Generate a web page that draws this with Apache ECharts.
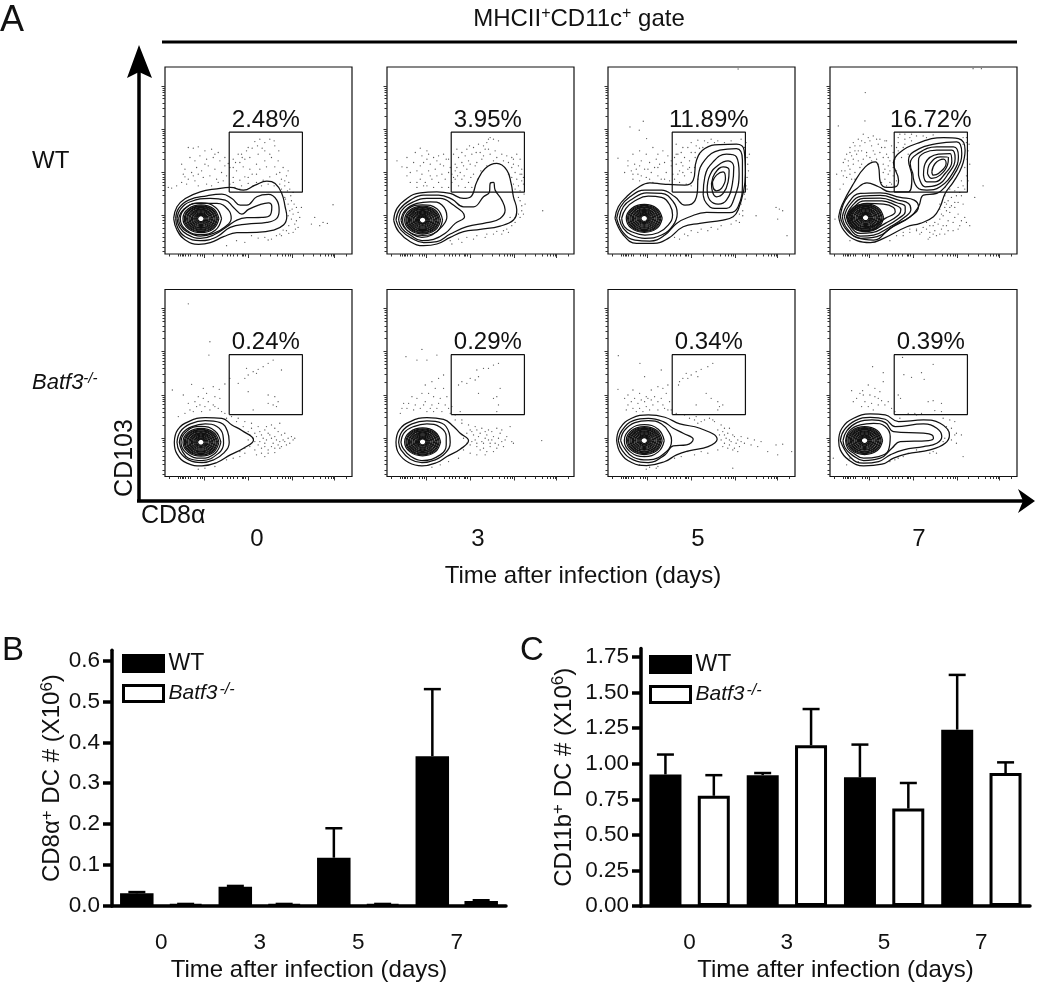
<!DOCTYPE html>
<html><head><meta charset="utf-8"><style>html,body{margin:0;padding:0;background:#fff}#c{width:1050px;height:983px}</style>
<script src="https://cdn.jsdelivr.net/npm/echarts@6/dist/echarts.min.js"></script></head><body><div id="c"></div>
<script>
const FONT='"Liberation Sans",Arial,sans-serif';
const days=['0','3','5','7'];
const wtB=[0.031,0.047,0.118,0.366], koB=[0.004,0.004,0.004,0.012];
const wtBErr=[0.034,0.049,0.19,0.53], koBErr=[0.005,0.005,0.005,0.014];
const wtC=[0.925,0.92,0.905,1.24], koC=[0.775,1.13,0.685,0.935];
const wtCErr=[1.065,0.935,1.135,1.625], koCErr=[0.92,1.385,0.865,1.01];
const gateLabels=['2.48%','3.95%','11.89%','16.72%','0.24%','0.29%','0.34%','0.39%'];
const gateBox=[[193,186],[413,186],[413,366],[193,366],[193,186]];
const xMajor=[119,249,383,510], xMinor=[14,41,46,51,56,61,71,76,96,106,111,146,171,186,196,206,218,231,236,241,286,316,336,351,361,371,376,414,446,466,481,491,499,506,546];
const yMajor=[115,245,376,505], yMinor=[37,7,20,50,62,76,92,102,109,154,177,193,206,216,225,232,239,284,307,324,337,347,356,363,370,414,437,453,467,477,486,493,499];
const coreCenters=[[108,106],[107,102],[109,107],[107,109],[108,103],[107,104],[109,108],[104,108]];
const coreRings=[
[[54,0],[38,30],[0,42],[-38,30],[-54,0],[-38,-30],[0,-42],[38,-30]],
[[50,0],[35,28],[0,39],[-35,28],[-50,0],[-35,-28],[0,-39],[35,-28]],
[[47,0],[33,26],[0,37],[-33,26],[-47,0],[-33,-26],[0,-37],[33,-26]],
[[43,0],[30,24],[0,34],[-30,24],[-43,0],[-30,-24],[0,-34],[30,-24]],
[[40,0],[28,23],[0,32],[-28,23],[-40,0],[-28,-23],[0,-32],[28,-23]],
[[36,0],[25,21],[0,29],[-25,21],[-36,0],[-25,-21],[0,-29],[25,-21]],
[[33,0],[23,19],[0,27],[-23,19],[-33,0],[-23,-19],[0,-27],[23,-19]],
[[29,0],[20,17],[0,24],[-20,17],[-29,0],[-20,-17],[0,-24],[20,-17]],
[[26,0],[18,15],[0,21],[-18,15],[-26,0],[-18,-15],[0,-21],[18,-15]],
[[22,0],[15,13],[0,18],[-15,13],[-22,0],[-15,-13],[0,-18],[15,-13]],
[[19,0],[13,11],[0,16],[-13,11],[-19,0],[-13,-11],[0,-16],[13,-11]],
[[16,0],[11,9],[0,13],[-11,9],[-16,0],[-11,-9],[0,-13],[11,-9]],
[[13,0],[9,8],[0,11],[-9,8],[-13,0],[-9,-8],[0,-11],[9,-8]],
[[10,0],[7,6],[0,9],[-7,6],[-10,0],[-7,-6],[0,-9],[7,-6]]];
const p1Contours=[
[[26,107],[36,142],[61,167],[106,187],[156,196],[196,200],[236,192],[271,207],[306,219],[331,212],[351,182],[361,142],[366,112],[356,87],[326,72],[276,65],[216,64],[176,52],[136,34],[101,29],[61,42],[36,72]],
[[32,107],[41,137],[71,162],[126,175],[171,180],[201,167],[226,147],[246,147],[276,172],[311,179],[336,162],[343,132],[336,107],[306,95],[246,90],[196,80],[156,52],[106,40],[61,52],[39,77]],
[[36,107],[46,134],[76,157],[136,167],[181,162],[206,140],[231,120],[251,134],[281,147],[311,154],[321,142],[316,117],[291,110],[246,109],[216,102],[186,82],[146,57],[106,47],[66,59],[44,80]],
[[41,107],[56,134],[96,152],[156,152],[191,132],[199,107],[181,82],[146,62],[106,54],[66,67],[46,87]],
[[170,106],[152,140],[108,154],[64,140],[46,106],[64,72],[108,58],[152,72]]];
const p2Contours=[
[[20,102],[30,137],[60,167],[100,184],[150,187],[190,182],[230,167],[252,172],[270,217],[295,257],[330,272],[360,252],[373,212],[380,172],[390,132],[380,102],[340,84],[280,74],[230,67],[190,50],[150,30],[110,25],[70,37],[35,67]],
[[27,102],[38,134],[70,162],[110,177],[155,177],[195,165],[230,142],[260,142],[290,172],[308,187],[310,212],[320,215],[325,192],[345,162],[355,132],[340,107],[300,94],[240,82],[190,60],[150,37],[110,34],[75,47],[42,72]],
[[35,102],[45,132],[80,157],[120,167],[160,167],[195,150],[233,112],[205,92],[175,62],[140,44],[105,40],[70,57],[45,77]],
[[42,102],[55,132],[90,152],[130,157],[165,147],[180,112],[165,82],[135,57],[105,50],[70,64],[50,82]],
[[167,102],[150,136],[107,148],[64,136],[47,102],[64,68],[107,56],[150,68]]];
const p3Contours=[
[[21,107],[31,142],[56,172],[86,197],[126,214],[166,210],[231,207],[256,222],[266,282],[291,317],[336,329],[386,330],[409,312],[413,242],[408,192],[391,132],[376,112],[346,102],[276,92],[226,82],[181,47],[136,32],[86,32],[46,57]],
[[26,107],[38,142],[66,172],[111,192],[161,192],[201,172],[231,147],[251,150],[268,182],[271,232],[291,282],[336,312],[386,317],[404,282],[404,212],[391,142],[366,124],[296,125],[246,112],[206,92],[171,57],[126,39],[81,42],[46,64]],
[[286,177],[291,232],[316,277],[356,300],[386,292],[394,242],[381,172],[356,137],[321,137],[296,152]],
[[298,192],[306,237],[331,267],[361,280],[378,262],[374,212],[356,162],[331,150],[306,162]],
[[311,212],[321,242],[346,262],[364,252],[361,217],[346,182],[326,172],[314,187]],
[[314,217],[326,237],[346,247],[353,227],[341,197],[326,190],[316,200]],
[[34,107],[46,142],[71,164],[116,184],[161,182],[196,157],[208,122],[196,87],[161,57],[111,47],[71,57],[46,77]],
[[41,107],[54,137],[81,160],[121,174],[161,170],[186,147],[194,117],[181,87],[151,64],[111,57],[71,67],[49,82]]];
const p4Contours=[
[[26,112],[36,147],[71,212],[106,262],[136,277],[146,262],[151,217],[171,200],[196,202],[206,222],[191,272],[206,302],[261,332],[341,350],[386,347],[406,312],[396,262],[371,217],[346,182],[331,142],[311,112],[271,92],[231,82],[161,47],[121,34],[81,40],[41,72]],
[[31,112],[46,162],[81,197],[111,214],[146,202],[181,187],[236,187],[246,232],[236,282],[251,307],[321,332],[381,337],[396,302],[381,252],[346,202],[321,182],[281,177],[266,142],[241,112],[181,77],[131,42],[81,50],[46,77]],
[[249,242],[241,272],[261,300],[321,322],[371,322],[386,292],[371,247],[331,202],[291,192],[261,202]],
[[266,237],[266,282],[321,312],[366,312],[376,287],[356,242],[321,207],[286,202]],
[[281,237],[286,272],[326,300],[361,302],[366,277],[346,242],[316,217],[291,217]],
[[293,242],[301,272],[331,292],[356,290],[353,267],[331,237],[306,227]],
[[306,247],[316,272],[341,285],[349,272],[326,242],[311,237]],
[[37,112],[53,150],[91,182],[151,184],[211,170],[253,162],[266,142],[241,112],[196,87],[141,52],[91,47],[51,77]],
[[43,112],[59,147],[96,174],[151,176],[206,162],[236,152],[243,134],[226,112],[181,82],[131,57],[91,54],[56,82]],
[[49,112],[66,144],[101,167],[151,168],[201,154],[226,142],[226,127],[206,107],[166,82],[126,64],[91,62],[61,84]],
[[53,112],[71,140],[106,160],[156,160],[196,147],[213,134],[206,117],[166,92],[126,72],[91,70],[66,87]],
[[59,112],[76,137],[111,152],[161,150],[191,140],[196,127],[166,107],[126,82],[91,77],[71,92]]];
const p5Contours=[
[[28,103],[38,140],[71,165],[121,177],[171,175],[201,155],[231,138],[266,110],[236,85],[196,65],[156,42],[111,32],[66,40],[36,68]],
[[36,103],[46,135],[76,158],[121,168],[166,162],[188,135],[193,103],[176,70],[146,50],[111,42],[71,50],[44,75]],
[[43,103],[54,132],[81,150],[121,158],[156,150],[174,125],[176,100],[161,70],[111,48],[71,55],[51,78]],
[[168,103],[150,137],[108,151],[66,137],[48,103],[66,69],[108,55],[150,69]]];
const p6Contours=[
[[27,103],[37,140],[70,165],[120,177],[170,172],[200,150],[220,130],[245,108],[220,82],[180,60],[150,42],[105,32],[65,42],[35,70]],
[[35,103],[45,135],[75,158],[120,167],[165,160],[187,130],[190,103],[175,70],[145,50],[105,42],[70,52],[42,80]],
[[42,103],[52,132],[80,150],[120,158],[160,148],[178,120],[178,95],[160,65],[105,48],[72,60],[48,85]]];
const p7Contours=[
[[26,108],[36,145],[71,175],[121,185],[171,178],[216,158],[276,145],[328,112],[301,90],[246,78],[206,65],[171,45],[116,33],[71,42],[38,70]],
[[31,108],[43,140],[76,168],[121,175],[166,165],[196,145],[226,130],[256,112],[236,95],[196,92],[171,65],[121,42],[76,50],[43,78]],
[[38,108],[49,138],[81,162],[121,168],[161,158],[186,128],[191,108],[176,75],[121,50],[76,58],[49,85]],
[[169,108],[151,142],[109,156],[67,142],[49,108],[67,74],[109,60],[151,74]]];
const p8Contours=[
[[26,108],[36,145],[71,175],[121,188],[166,185],[206,165],[281,170],[331,160],[359,125],[346,100],[301,80],[231,68],[191,55],[156,37],[101,32],[56,50],[31,80]],
[[31,108],[43,140],[76,168],[121,178],[166,172],[196,150],[281,158],[321,145],[336,120],[321,100],[281,90],[221,80],[181,65],[146,45],[101,40],[61,58]],
[[39,108],[51,138],[81,162],[126,170],[166,162],[191,135],[281,130],[306,125],[311,115],[296,108],[211,105],[186,85],[151,55],[101,48],[66,65],[46,85]],
[[47,108],[59,138],[91,155],[131,160],[166,150],[181,120],[176,80],[146,60],[101,55],[71,70],[53,85]]];
const p1Dots=[[70,320],[85,318],[100,322],[120,310],[140,315],[160,305],[50,270],[55,240],[75,290],[90,280],[105,295],[125,285],[145,290],[165,280],[180,265],[190,272],[60,255],[80,245],[95,260],[110,250],[130,265],[150,255],[170,245],[185,235],[70,225],[90,220],[115,230],[135,235],[155,225],[175,220],[195,210],[10,200],[20,198],[65,210],[100,205],[140,205],[250,320],[270,338],[285,345],[300,335],[315,345],[328,340],[220,300],[232,290],[245,310],[262,318],[278,325],[292,318],[240,285],[225,275],[205,260],[215,250],[235,262],[255,255],[275,270],[300,280],[320,290],[340,280],[355,260],[370,250],[205,230],[225,222],[250,230],[275,240],[295,222],[315,232],[335,240],[350,225],[365,235],[372,215],[205,215],[230,205],[250,212],[345,210],[360,205],[360,170],[370,150],[375,130],[380,105],[385,120],[390,90],[395,140],[372,85],[365,70],[355,72],[345,60],[335,55],[300,50],[320,45],[215,40],[240,35],[185,25],[400,125],[405,110],[410,140],[380,160],[392,75],[440,90],[450,110],[465,85],[475,95],[488,92],[505,148],[205,285],[195,260],[180,290],[150,300],[120,270],[100,240],[85,235],[60,232],[50,215],[35,205],[125,210],[160,215],[210,200],[225,195],[240,232],[262,240],[285,255],[305,262],[330,262],[345,245],[360,220],[375,195],[385,185],[368,190],[350,195],[328,205],[310,210],[290,205],[275,215],[265,205],[212,275],[230,300],[255,290],[280,300],[300,310],[315,300],[330,325],[342,310],[362,165],[378,175],[388,150],[395,100],[400,80],[385,65],[372,62],[350,55],[310,42],[280,48],[260,55],[370,115],[382,135]];
const p2Dots=[[100,318],[120,310],[85,305],[60,290],[30,280],[45,262],[60,260],[105,295],[125,300],[140,290],[155,295],[170,300],[185,285],[110,275],[130,270],[150,280],[170,265],[190,260],[90,250],[105,240],[125,250],[145,255],[165,240],[185,245],[90,215],[100,225],[115,215],[135,225],[155,215],[175,225],[195,215],[120,205],[140,200],[165,200],[185,200],[310,350],[320,345],[300,335],[290,325],[275,330],[260,320],[240,315],[225,305],[210,315],[200,300],[215,290],[235,295],[255,300],[280,305],[305,315],[325,310],[345,300],[360,295],[375,290],[390,300],[400,285],[205,270],[225,275],[245,280],[265,265],[285,285],[205,250],[220,245],[240,255],[260,240],[205,225],[225,225],[245,215],[215,205],[235,200],[255,200],[380,270],[395,265],[405,255],[385,245],[400,240],[390,225],[405,220],[395,205],[385,195],[400,190],[410,230],[375,260],[395,170],[405,145],[395,120],[385,95],[375,85],[360,75],[350,70],[330,68],[300,60],[270,55],[240,50],[215,45],[190,40],[405,130],[415,150],[370,110],[468,130],[80,275],[70,245],[100,265],[120,285],[160,270],[178,285],[195,240],[200,230],[150,235],[130,235],[110,205],[90,200],[70,215],[60,235],[210,260],[230,265],[250,270],[270,275],[290,295],[310,300],[330,290],[350,280],[365,275],[380,285],[212,235],[232,235],[252,230],[272,225],[282,250],[300,265],[320,280],[335,340],[305,345],[295,315],[268,305],[248,325],[365,240],[375,230],[405,240],[410,210],[380,210],[412,180],[400,160],[410,120],[400,110],[385,110],[365,65],[345,60],[320,60],[295,50],[260,45],[225,35],[195,30]];
const p3Dots=[[106,399],[66,382],[94,372],[116,347],[30,288],[75,300],[95,310],[115,300],[135,320],[150,300],[165,310],[180,295],[60,280],[80,270],[100,280],[125,275],[145,285],[170,275],[190,265],[70,250],[90,240],[110,255],[130,245],[150,260],[175,245],[195,240],[75,225],[95,220],[115,230],[135,215],[160,225],[185,220],[205,330],[225,320],[250,335],[270,342],[290,340],[310,345],[320,335],[265,325],[285,320],[210,300],[230,290],[250,305],[275,300],[205,270],[225,265],[245,280],[260,260],[210,240],[230,235],[250,245],[270,225],[215,215],[235,210],[250,205],[400,345],[415,335],[425,300],[420,270],[418,230],[415,205],[410,180],[400,150],[395,120],[385,100],[405,130],[340,85],[310,80],[280,75],[250,70],[230,60],[200,50],[445,115],[505,140],[515,135],[525,130],[510,105],[538,55],[391,556],[200,290],[190,280],[155,270],[140,260],[120,255],[85,255],[95,265],[60,265],[50,245],[75,240],[100,235],[125,225],[150,235],[170,225],[200,225],[205,300],[220,275],[240,255],[215,250],[225,245],[245,260],[262,290],[262,305],[240,320],[220,305],[275,318],[300,335],[330,340],[350,335],[370,340],[410,320],[418,290],[422,250],[418,195],[412,165],[405,115],[395,95],[370,90],[330,75],[300,70],[270,65],[240,55],[215,45]];
const p4Dots=[[430,557],[455,557],[106,485],[105,400],[25,385],[100,360],[115,350],[130,355],[150,345],[170,340],[85,345],[70,335],[60,320],[75,310],[90,325],[105,335],[125,325],[145,330],[165,320],[185,325],[50,300],[65,295],[80,300],[95,310],[110,305],[130,310],[150,305],[170,300],[190,305],[40,275],[55,280],[70,270],[85,280],[100,285],[120,290],[140,285],[160,290],[180,280],[195,285],[45,250],[60,255],[75,245],[90,260],[160,270],[175,265],[190,260],[50,230],[65,225],[40,210],[30,195],[160,245],[175,240],[190,235],[200,220],[165,225],[180,215],[195,205],[158,205],[210,360],[225,345],[240,350],[260,355],[290,350],[310,358],[205,335],[225,330],[245,340],[400,350],[410,335],[415,310],[412,285],[405,260],[410,235],[395,220],[385,200],[405,195],[375,190],[360,195],[345,200],[200,320],[345,175],[355,160],[365,145],[350,130],[340,115],[330,105],[360,125],[375,140],[385,120],[395,100],[370,95],[350,85],[335,75],[315,70],[300,65],[280,80],[260,70],[345,60],[320,55],[300,50],[410,95],[420,85],[370,70],[345,155],[330,135],[315,95],[300,85],[290,95],[275,65],[385,155],[400,150],[435,170],[460,205],[240,75],[220,65],[200,55],[180,40],[60,40],[30,100],[15,105],[85,310],[110,295],[125,280],[145,270],[165,255],[180,250],[60,240],[75,225],[55,265],[45,285],[70,285],[95,270],[115,270],[135,300],[155,320],[175,290],[190,275],[200,250],[205,310],[220,320],[235,300],[215,290],[200,295],[165,340],[140,345],[120,340],[95,340],[75,325],[60,305],[35,250],[20,240],[40,235],[155,215],[170,205],[185,210],[380,175],[395,175],[365,170],[350,150],[335,120],[325,90],[310,85],[290,75],[270,60],[355,100],[375,110],[390,85],[405,110],[385,75],[355,70],[340,85],[330,60],[310,60],[295,45],[360,140],[375,155],[345,140],[330,150],[410,350],[400,330],[418,330],[420,270],[415,220],[400,205],[390,185],[280,355],[245,360],[225,360],[205,350],[260,75],[240,65],[220,55]];
const p5Dots=[[70,519],[135,405],[132,365],[195,295],[180,278],[163,262],[145,270],[115,265],[80,277],[22,260],[100,240],[115,235],[125,250],[150,240],[165,235],[55,245],[90,225],[70,220],[105,215],[130,225],[145,215],[160,205],[60,190],[85,195],[110,195],[135,200],[170,195],[180,190],[325,350],[310,340],[295,330],[280,322],[265,315],[250,305],[240,295],[275,310],[245,325],[220,280],[350,320],[250,255],[310,245],[330,240],[340,225],[325,215],[310,220],[265,200],[335,210],[200,180],[215,165],[235,150],[260,160],[280,150],[300,140],[320,155],[345,160],[250,135],[270,130],[290,125],[310,130],[330,120],[350,125],[370,115],[385,110],[265,115],[285,105],[305,110],[325,100],[345,105],[365,95],[390,115],[255,90],[270,80],[290,85],[310,80],[330,85],[350,90],[240,70],[225,60],[205,55],[185,50],[150,30],[120,25],[100,22],[275,65],[300,60],[300,90],[320,115],[340,135],[360,130],[345,85],[255,125],[275,120],[295,115],[315,125],[335,110],[355,110],[375,100],[280,95],[300,100],[320,90],[340,95],[360,105],[380,120],[270,105],[250,110],[240,85],[225,75],[290,70],[310,70],[330,72],[260,145],[285,135],[305,150],[330,145],[240,165],[220,175],[185,175],[150,210],[120,210],[95,210],[75,200],[40,180]];
const p6Dots=[[105,382],[57,360],[90,350],[120,350],[150,365],[170,305],[155,295],[135,285],[115,275],[145,265],[170,265],[125,250],[105,250],[140,240],[160,235],[180,240],[195,210],[75,240],[90,235],[115,225],[135,215],[155,220],[175,215],[190,190],[50,220],[60,205],[80,200],[100,205],[120,195],[140,195],[165,195],[40,190],[335,340],[320,335],[305,325],[290,325],[270,320],[275,300],[265,290],[250,295],[225,285],[215,275],[240,280],[340,265],[320,235],[330,240],[275,250],[335,215],[330,195],[220,195],[205,170],[225,160],[245,155],[265,150],[285,145],[305,140],[330,145],[370,150],[240,130],[260,125],[280,130],[300,125],[320,120],[340,130],[360,120],[375,105],[265,110],[285,105],[305,110],[325,100],[345,105],[250,95],[270,90],[290,85],[310,90],[330,85],[350,90],[230,80],[250,70],[270,65],[295,65],[215,55],[185,45],[160,35],[135,28],[465,108],[380,100],[255,135],[275,120],[295,115],[315,110],[335,115],[355,110],[270,100],[290,100],[310,100],[335,95],[255,105],[280,80],[300,75],[320,75],[240,100],[230,115],[250,140],[270,140],[295,135],[315,135],[345,140],[225,170],[205,185],[185,205],[150,205],[130,205],[110,215],[85,215],[65,220],[45,205]];
const p7Dots=[[31,363],[96,340],[110,300],[160,320],[180,275],[165,265],[150,270],[130,260],[115,240],[95,250],[75,260],[60,245],[50,235],[30,262],[80,235],[100,230],[120,235],[140,240],[160,235],[175,250],[185,225],[60,215],[75,205],[95,205],[115,210],[135,215],[150,200],[170,205],[190,200],[55,200],[315,340],[300,330],[280,322],[265,315],[250,305],[235,310],[225,295],[215,285],[212,275],[240,295],[270,300],[295,250],[310,235],[330,225],[335,210],[265,215],[330,200],[345,215],[205,190],[245,175],[260,170],[280,165],[305,175],[320,165],[340,155],[270,160],[345,135],[360,130],[375,125],[355,115],[370,105],[390,110],[400,120],[340,110],[350,100],[365,95],[380,85],[395,90],[410,100],[440,110],[460,105],[505,95],[525,97],[480,75],[510,65],[552,75],[375,25],[330,80],[300,70],[280,75],[260,65],[240,75],[220,60],[200,55],[150,30],[125,28],[145,25],[125,200],[105,195],[85,195],[70,225],[90,220],[110,225],[150,225],[130,230],[165,215],[180,200],[335,125],[350,125],[365,110],[385,100],[400,105],[420,115],[345,90],[360,85],[375,80],[390,75],[350,145],[365,145],[380,120],[430,95],[450,90],[330,140],[315,170],[290,170],[265,180],[230,185],[95,35],[115,22]];
const p8Dots=[[218,358],[128,330],[310,337],[160,312],[222,306],[245,298],[275,312],[283,292],[98,258],[115,275],[135,265],[150,255],[160,285],[65,258],[100,245],[80,235],[135,240],[155,228],[175,225],[105,225],[125,220],[145,215],[205,245],[212,235],[295,225],[310,228],[335,220],[235,190],[255,190],[315,198],[335,195],[340,175],[360,170],[375,165],[260,185],[275,190],[210,175],[195,195],[350,150],[365,145],[375,125],[365,110],[380,100],[395,125],[345,115],[310,75],[320,70],[260,80],[235,70],[205,55],[180,45],[400,60],[85,45],[60,55],[10,55],[50,35],[120,245],[90,250],[70,225],[145,235],[165,215],[185,205],[95,210],[115,210],[130,200],[355,140],[380,130],[340,105],[300,70],[270,75],[220,60],[195,50]];
const allContours=[p1Contours,p2Contours,p3Contours,p4Contours,p5Contours,p6Contours,p7Contours,p8Contours];
const allDots=[p1Dots,p2Dots,p3Dots,p4Dots,p5Dots,p6Dots,p7Dots,p8Dots];

const panelLefts=[165,387,608,830], panelTops=[67,289.5], panelSize=187, RANGE=562;
const grid=[],xAxis=[],yAxis=[],series=[];
const closed=c=>c.concat([c[0]]);
allContours.forEach((cs,i)=>{
  grid.push({left:panelLefts[i%4],top:panelTops[i<4?0:1],width:panelSize,height:panelSize,show:true,borderColor:'#111',borderWidth:1.2,backgroundColor:'#fff'});
  const ax=(vals,len,pos)=>({type:'value',gridIndex:i,min:0,max:RANGE,position:pos,splitLine:{show:false},axisLine:{show:false},axisLabel:{show:false},axisTick:{show:true,length:len,customValues:vals,lineStyle:{color:'#333',width:1}}});
  xAxis.push(ax(xMajor,4,'bottom'),ax(xMinor,2.5,'bottom'));
  yAxis.push(ax(yMajor,3.5,'left'),ax(yMinor,2.5,'left'));
  const a={xAxisIndex:2*i,yAxisIndex:2*i,silent:true,animation:false};
  series.push({...a,type:'scatter',data:allDots[i],symbolSize:1.3,itemStyle:{color:'#555',opacity:1}});
  const c0=coreCenters[i];
  const rings=cs.concat(coreRings.map(r=>r.map(p=>[p[0]+c0[0],p[1]+c0[1]])));
  rings.forEach(c=>series.push({...a,type:'line',data:closed(c),smooth:0.45,symbol:'none',lineStyle:{color:'#111',width:1.25}}));
  series.push({...a,type:'line',data:gateBox,symbol:'none',lineStyle:{color:'#111',width:1.2}});
  series.push({...a,type:'scatter',data:[[303,366]],symbolSize:0,itemStyle:{opacity:1},label:{show:true,position:'top',distance:0,formatter:gateLabels[i],fontFamily:FONT,fontSize:24,color:'#111',opacity:1}});
});
const sup={fontFamily:FONT,fontSize:17,color:'#111',padding:[0,0,12,0]};
function barPanel(idx,o){
  grid.push({left:o.left,top:o.top,width:o.width,height:o.height});
  xAxis.push({type:'category',gridIndex:idx,data:days,position:'bottom',axisLine:{lineStyle:{color:'#000',width:3.5}},axisTick:{alignWithLabel:true,length:9,lineStyle:{color:'#000',width:3.5}},axisLabel:{fontFamily:FONT,fontSize:22.5,color:'#111',margin:25},name:'Time after infection (days)',nameLocation:'middle',nameGap:52,nameTextStyle:{fontFamily:FONT,fontSize:24,color:'#111'}});
  yAxis.push({type:'value',gridIndex:idx,min:0,max:o.max,splitLine:{show:false},axisLine:{show:true,lineStyle:{color:'#000',width:3.5}},axisTick:{show:true,length:9,customValues:o.ticks,lineStyle:{color:'#000',width:3.5}},axisLabel:{customValues:o.ticks,formatter:v=>v.toFixed(o.dec),fontFamily:FONT,fontSize:22.5,color:'#111',margin:12},name:o.title,nameLocation:'middle',nameGap:o.nameGap,nameTextStyle:{fontFamily:FONT,fontSize:24,color:'#111',rich:{t:{fontFamily:FONT,fontSize:24,color:'#111'},s:sup}}});
  const ax=2*8+(idx-8);
  const a={xAxisIndex:ax,yAxisIndex:ax,animation:false,silent:true};
  series.push({...a,type:'bar',name:'WT',data:o.wt,barWidth:o.barWidth,barGap:o.barGap,itemStyle:{color:'#000',borderColor:'#000',borderWidth:3}});
  series.push({...a,type:'bar',name:'Batf3-/-',data:o.ko,barWidth:o.barWidth,barGap:o.barGap,itemStyle:{color:'#fff',borderColor:'#000',borderWidth:3}});
  const err=(vals,tops,off)=>({...a,type:'custom',clip:false,z:1,data:vals.map((v,k)=>[k,v,tops[k]]),encode:{x:0,y:[1,2]},renderItem(p,api){
    const b=api.coord([api.value(0),api.value(1)]),t=api.coord([api.value(0),api.value(2)]);const x=b[0]+off,st={stroke:'#000',lineWidth:2.5};
    return {type:'group',children:[{type:'line',shape:{x1:x,y1:b[1],x2:x,y2:t[1]},style:st},{type:'line',shape:{x1:x-8.5,y1:t[1],x2:x+8.5,y2:t[1]},style:st}]};
  }});
  series.push(err(o.wt,o.wtErr,-o.off),err(o.ko,o.koErr,o.off));
}
barPanel(8,{left:112,top:650.25,width:394,height:263.75,max:0.625,ticks:[0,0.1,0.2,0.3,0.4,0.5,0.6],dec:1,wt:wtB,ko:koB,wtErr:wtBErr,koErr:koBErr,barWidth:33.5,barGap:'46%',off:24.4,nameGap:44,title:'{t|CD8α}{s|+}{t| DC # (X10}{s|6}{t|)}'});
barPanel(9,{left:641,top:648.6,width:389,height:266.4,max:1.81,ticks:[0,0.25,0.5,0.75,1,1.25,1.5,1.75],dec:2,wt:wtC,ko:koC,wtErr:wtCErr,koErr:koCErr,barWidth:32,barGap:'51%',off:24.2,nameGap:62,title:'{t|CD11b}{s|+}{t| DC # (X10}{s|6}{t|)}'});
const legendBase={orient:'vertical',icon:'rect',selectedMode:false,itemWidth:40,itemHeight:16,itemGap:7,itemStyle:{borderWidth:3,borderColor:'#000'},data:['WT','Batf3-/-'],formatter:n=>n==='WT'?'{w|WT}':'{i|Batf3}{s|-/-}',textStyle:{fontFamily:FONT,fontSize:22,color:'#111',rich:{w:{fontFamily:FONT,fontSize:23,color:'#111'},i:{fontFamily:FONT,fontSize:21,fontStyle:'italic',color:'#111'},s:{fontFamily:FONT,fontSize:16,fontStyle:'italic',color:'#111',padding:[0,0,7,2]}}}};
const txt=(text,x,y,size,extra)=>({type:'text',z:50,style:Object.assign({text,x,y,font:size+'px '+FONT,fill:'#111',align:'left',verticalAlign:'middle'},extra||{})});
const seg=(x1,y1,x2,y2,w)=>({type:'line',z:50,shape:{x1,y1,x2,y2},style:{stroke:'#000',lineWidth:w}});
const tri=pts=>({type:'polygon',z:50,shape:{points:pts},style:{fill:'#000'}});
const graphic=[
 txt('A',0,21,36),txt('B',2,651,33),txt('C',520,651,33),
 txt('{a|MHCII}{b|+}{a|CD11c}{b|+}{a| gate}',579,19,24,{align:'center',rich:{a:{font:'24px '+FONT,fill:'#111'},b:{font:'16px '+FONT,fill:'#111',padding:[0,0,10,0]}}}),
 seg(162,42,1017,42,3),
 seg(139,501,139,70,3.5),tri([[139,45],[152,78],[139,72],[127,78]]),
 seg(137,501,1025,501,3.5),tri([[1035,501],[1018,489],[1023,501],[1018,513]]),
 txt('WT',32,161,24),
 txt('{i|Batf3}{s|-/-}',32,383,22,{rich:{i:{font:'italic 22px '+FONT,fill:'#111'},s:{font:'italic 15px '+FONT,fill:'#111',padding:[0,0,9,0]}}}),
 {type:'text',z:50,x:125,y:458,rotation:Math.PI/2,style:{text:'CD103',font:'25px '+FONT,fill:'#111',align:'center',verticalAlign:'middle'}},
 txt('CD8α',141,516,25),
 ...days.map((d,i)=>txt(d,[257,478,698,919][i],539,24,{align:'center'})),
 txt('Time after infection (days)',583,576,24,{align:'center'})
];
const chart=echarts.init(document.getElementById('c'),null,{renderer:'canvas',width:1050,height:983});
chart.setOption({animation:false,backgroundColor:'#fff',grid,xAxis,yAxis,series,graphic,
 legend:[{...legendBase,left:117,top:647},{...legendBase,left:644,top:648}]});
</script></body></html>
